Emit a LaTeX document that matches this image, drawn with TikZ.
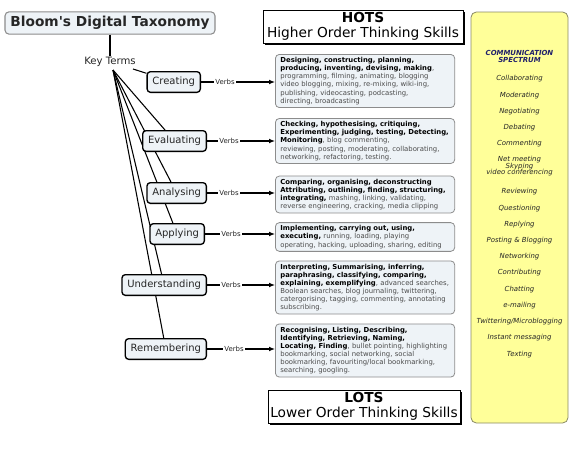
\documentclass[tikz,border=0pt]{standalone}
\usepackage{fontspec}
\setmainfont{DejaVu Sans}
\usetikzlibrary{positioning,shadows,backgrounds,arrows.meta}
\definecolor{boxfill}{HTML}{EEF3F7}
\definecolor{boxedge}{HTML}{8C8C8C}
\definecolor{textgray}{HTML}{4A4A4A}
\definecolor{textdark}{HTML}{262626}
\definecolor{specfill}{HTML}{FFFF99}
\definecolor{specedge}{HTML}{8A8A66}
\definecolor{specnavy}{HTML}{1F1F6B}
\newcommand{\keyverb}[1]{\textcolor{black}{\textbf{#1}}}

\begin{document}
\begin{tikzpicture}[x=0.75pt, y=-0.75pt,
  term/.style={draw=black, line width=1pt, fill=boxfill, rounded corners=2.5pt, anchor=east,
    font=\fontsize{7.5pt}{9pt}\selectfont, text=textdark, inner xsep=4pt, minimum height=15.5pt},
  verbs/.style={font=\fontsize{5.2pt}{6pt}\selectfont, text=textdark, inner sep=1pt},
  verbbox/.style={draw=boxedge, line width=0.6pt, fill=boxfill, rounded corners=3pt, anchor=west,
    align=left, text width=127pt, inner xsep=3.75pt, inner ysep=2.2pt,
    font=\fontsize{5.15pt}{6.1pt}\selectfont, text=textgray},
  level/.style={draw=black, line width=0.5pt, fill=white, align=center, inner sep=1pt,
    font=\fontsize{10.3pt}{11.3pt}\selectfont, minimum height=24.75pt,
    drop shadow={shadow xshift=1.5pt, shadow yshift=-1.5pt, opacity=1, fill=black}},
  spoke/.style={line width=0.8pt},
  link/.style={line width=0.8pt, -{Latex[length=4.5pt, width=3.6pt]}},
  spec/.style={font=\fontsize{5.2pt}{6pt}\selectfont\itshape, text=textdark, inner sep=0.5pt}]

\useasboundingbox (0,0) rectangle (576,457);

% title and key terms
\node[draw=boxedge, line width=0.8pt, fill=boxfill, rounded corners=3pt, minimum width=157.5pt,
  minimum height=16.5pt, font=\fontsize{10.3pt}{12pt}\selectfont\bfseries, text=textdark]
  (title) at (110,23) {Bloom\textquotesingle s Digital Taxonomy};
\node[font=\fontsize{7.6pt}{9pt}\selectfont, text=textdark, inner sep=1pt] (keys) at (110,62) {Key Terms};
\draw[spoke] (title) -- (keys);
\coordinate (hub) at (113,70);
\coordinate (hubr) at (133,69);

% HOTS / LOTS
\node[level, minimum width=150pt] (hots) at (363,26.5) {\textbf{HOTS}\\Higher Order Thinking Skills};
\node[level, minimum width=144pt] (lots) at (364,406.5) {\textbf{LOTS}\\Lower Order Thinking Skills};

% terms
\node[term] (cr) at (201,82) {Creating};
\node[term] (ev) at (207,141) {Evaluating};
\node[term] (an) at (207,193) {Analysing};
\node[term] (ap) at (205,234) {Applying};
\node[term] (un) at (207,285) {Understanding};
\node[term] (re) at (207,349) {Remembering};

\begin{scope}[on background layer]
\draw[spoke] (hubr) -- (cr);
\foreach \t in {ev,an,ap,un,re}
  \draw[spoke] (hub) -- (\t);
\end{scope}

% verbs labels
\node[verbs] (cr-v) at (225,82) {Verbs};
\node[verbs] (ev-v) at (229,141) {Verbs};
\node[verbs] (an-v) at (229,193) {Verbs};
\node[verbs] (ap-v) at (231,234) {Verbs};
\node[verbs] (un-v) at (231,285) {Verbs};
\node[verbs] (re-v) at (234,349) {Verbs};

% verb boxes
\node[verbbox] (cr-b) at (275,81) {\keyverb{Designing, constructing, planning,}\\
  \keyverb{producing, inventing, devising, making},\\
  programming, filming, animating, blogging\\
  video blogging, mixing, re-mixing, wiki-ing,\\
  publishing, videocasting, podcasting,\\
  directing, broadcasting};
\node[verbbox] (ev-b) at (275,141) {\keyverb{Checking, hypothesising, critiquing,}\\
  \keyverb{Experimenting, judging, testing, Detecting,}\\
  \keyverb{Monitoring}, blog commenting,\\
  reviewing, posting, moderating, collaborating,\\
  networking, refactoring, testing.};
\node[verbbox] (an-b) at (275,194.5) {\keyverb{Comparing, organising, deconstructing}\\
  \keyverb{Attributing, outlining, finding, structuring,}\\
  \keyverb{integrating,} mashing, linking, validating,\\
  reverse engineering, cracking, media clipping};
\node[verbbox] (ap-b) at (275,237) {\keyverb{Implementing, carrying out, using,}\\
  \keyverb{executing,} running, loading, playing\\
  operating, hacking, uploading, sharing, editing};
\node[verbbox] (un-b) at (275,287.5) {\keyverb{Interpreting, Summarising, inferring,}\\
  \keyverb{paraphrasing, classifying, comparing,}\\
  \keyverb{explaining, exemplifying}, advanced searches,\\
  Boolean searches, blog journaling, twittering,\\
  catergorising, tagging, commenting, annotating\\
  subscribing.};
\node[verbbox] (re-b) at (275,350.5) {\keyverb{Recognising, Listing, Describing,}\\
  \keyverb{Identifying, Retrieving, Naming,}\\
  \keyverb{Locating, Finding}, bullet pointing, highlighting\\
  bookmarking, social networking, social\\
  bookmarking, favouriting/local bookmarking,\\
  searching, googling.};

\foreach \t in {cr,ev,an,ap,un,re} {
  \draw[spoke] (\t) -- (\t-v);
  \draw[link] (\t-v) -- (\t-v -| \t-b.west);
}

% communication spectrum
\node[draw=specedge, fill=specfill, line width=0.6pt, rounded corners=4pt,
  minimum width=72.75pt, minimum height=308.25pt] (spectrum) at (519.5,217.5) {};
\node[font=\fontsize{5.2pt}{5.3pt}\selectfont\bfseries\itshape, text=specnavy, align=center, inner sep=0.5pt]
  (sp-head) at (519.5,56.5) {COMMUNICATION\\SPECTRUM};
\foreach \y/\t [count=\i] in {79/Collaborating, 96/Moderating, 112/Negotiating, 128/Debating,
  144/Commenting, 160/Net meeting, 166.5/Skyping, 173/video conferencing, 192/Reviewing,
  209/Questioning, 225/Replying, 241/Posting \& Blogging, 257/Networking, 273/Contributing,
  290/Chatting, 306/e-mailing, 322/Twittering\slash Microblogging, 338/Instant messaging, 355/Texting}
  \node[spec] (sp-\i) at (519.5,\y) {\t};

\end{tikzpicture}
\end{document}
